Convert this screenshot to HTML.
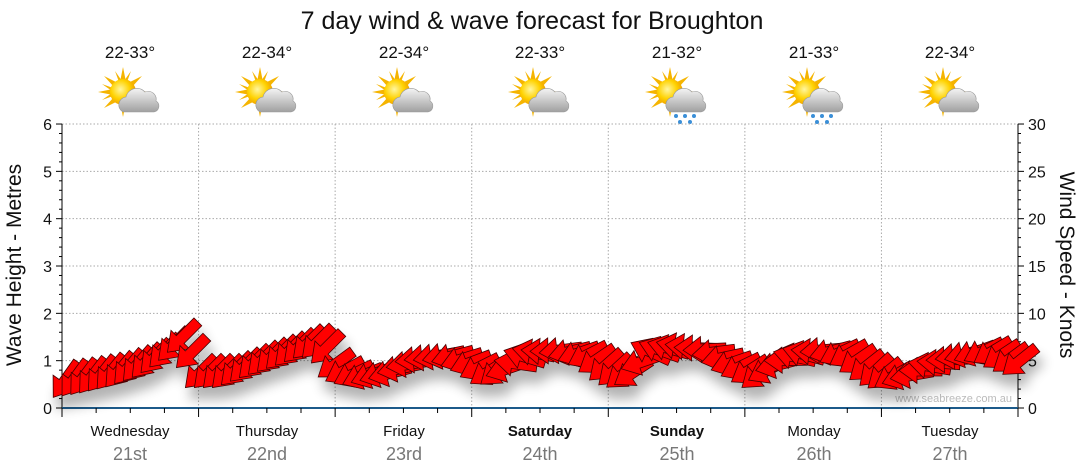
<!DOCTYPE html>
<html><head><meta charset="utf-8"><style>
body{margin:0;background:#fff;width:1080px;height:475px;overflow:hidden;font-family:"Liberation Sans",sans-serif}
svg{display:block}
</style></head><body>
<svg id="s" width="1080" height="475" xmlns="http://www.w3.org/2000/svg" font-family="Liberation Sans, sans-serif">
<defs>
<filter id="sh" x="-20%" y="-50%" width="140%" height="200%"><feGaussianBlur in="SourceAlpha" stdDeviation="6"/><feOffset dx="4" dy="12"/><feComponentTransfer><feFuncA type="linear" slope="0.3"/></feComponentTransfer><feMerge><feMergeNode/><feMergeNode in="SourceGraphic"/></feMerge></filter>
<radialGradient id="sun" cx="0.4" cy="0.4" r="0.6"><stop offset="0" stop-color="#fff6a0"/><stop offset="0.6" stop-color="#ffd200"/><stop offset="1" stop-color="#f0a000"/></radialGradient>
<linearGradient id="cl" x1="0" y1="0" x2="0" y2="1"><stop offset="0" stop-color="#f4f4f4"/><stop offset="1" stop-color="#a0a0a0"/></linearGradient>
<g id="sc">
<g fill="#f5b400">
<polygon points="-3,-10 0,-25 3,-10"/><polygon points="-3,10 0,25 3,10"/><polygon points="-10,-3 -25,0 -10,3"/><polygon points="10,-3 25,0 10,3"/>
<polygon points="-9,-5 -19,-16 -5,-9" /><polygon points="9,-5 19,-16 5,-9"/><polygon points="-9,5 -19,16 -5,9"/><polygon points="9,5 19,16 5,9"/>
<polygon points="-4,-10 -8,-21 -1,-11"/><polygon points="4,-10 8,-21 1,-11"/><polygon points="-10,-4 -21,-8 -11,-1"/><polygon points="-10,4 -21,8 -11,1"/>
</g>
<circle r="13" fill="url(#sun)"/>
<path d="M0,20 a8,8 0 0 1 3,-15 a11,11 0 0 1 19,-5 a8,8 0 0 1 11,9 a6,6 0 0 1 -2,11 z" fill="url(#cl)" stroke="#999" stroke-width="0.6"/>
</g>
<g id="rn" fill="#3a8fd8"><circle cx="6" cy="24" r="2"/><circle cx="15" cy="24" r="2"/><circle cx="24" cy="24" r="2"/><circle cx="10" cy="30" r="2"/><circle cx="20" cy="30" r="2"/></g>
</defs>
<text x="532" y="29" font-size="25" text-anchor="middle" fill="#111">7 day wind &amp; wave forecast for Broughton</text>
<g font-size="17" text-anchor="middle" fill="#111">
<text x="130" y="58">22-33°</text><text x="267" y="58">22-34°</text><text x="404" y="58">22-34°</text><text x="540" y="58">22-33°</text><text x="677" y="58">21-32°</text><text x="814" y="58">21-33°</text><text x="950" y="58">22-34°</text>
</g>
<use href="#sc" x="123" y="92"/><use href="#sc" x="260" y="92"/><use href="#sc" x="397" y="92"/><use href="#sc" x="533" y="92"/><use href="#sc" x="670" y="92"/><use href="#rn" x="670" y="92"/><use href="#sc" x="807" y="92"/><use href="#rn" x="807" y="92"/><use href="#sc" x="943" y="92"/>
<g id="grid" stroke="#aaa" stroke-dasharray="1.5,2" stroke-width="1"></g>
<g id="ax" stroke="#000" stroke-width="1"></g>
<g id="lab" font-size="16" fill="#111"></g>
<text transform="translate(21,265) rotate(-90)" font-size="21" text-anchor="middle" fill="#111">Wave Height - Metres</text>
<text transform="translate(1060,265) rotate(90)" font-size="21" text-anchor="middle" fill="#111">Wind Speed - Knots</text>
<g font-size="15" text-anchor="middle" fill="#111">
<text x="130" y="436">Wednesday</text><text x="267" y="436">Thursday</text><text x="404" y="436">Friday</text><text x="540" y="436" font-weight="bold">Saturday</text><text x="677" y="436" font-weight="bold">Sunday</text><text x="814" y="436">Monday</text><text x="950" y="436">Tuesday</text>
</g>
<g font-size="18" text-anchor="middle" fill="#777">
<text x="130" y="460">21st</text><text x="267" y="460">22nd</text><text x="404" y="460">23rd</text><text x="540" y="460">24th</text><text x="677" y="460">25th</text><text x="814" y="460">26th</text><text x="950" y="460">27th</text>
</g>
<text x="1012" y="402" font-size="11" text-anchor="end" fill="#bbb">www.seabreeze.com.au</text>
<g id="arr" filter="url(#sh)" fill="#f00" stroke="#400" stroke-width="0.8" stroke-linejoin="miter"></g>
</svg>
<script>
var NS="http://www.w3.org/2000/svg";
function el(p,t,a,txt){var e=document.createElementNS(NS,t);for(var k in a)e.setAttribute(k,a[k]);if(txt!=null)e.textContent=txt;document.getElementById(p).appendChild(e);return e;}
var x0=62,x1=1018,y0=408,dy=47.33;
for(var i=1;i<=6;i++)el("grid","line",{x1:x0,x2:x1,y1:y0-i*dy,y2:y0-i*dy});
for(var d=1;d<7;d++){var x=x0+d*(x1-x0)/7;el("grid","line",{x1:x,x2:x,y1:124,y2:y0});}
el("ax","line",{x1:x0,x2:x0,y1:124,y2:y0});el("ax","line",{x1:x1,x2:x1,y1:124,y2:y0});
el("ax","line",{x1:x0,x2:x1,y1:y0,y2:y0,stroke:"#1c5a8a","stroke-width":2});
for(var i=0;i<=6;i++){var y=y0-i*dy;el("ax","line",{x1:x0-6,x2:x0,y1:y,y2:y});el("lab","text",{x:x0-10,y:y+6,"text-anchor":"end"},i);
 if(i<6)for(var j=1;j<5;j++){var yy=y-j*dy/5;el("ax","line",{x1:x0-3,x2:x0,y1:yy,y2:yy});}}
for(var i=0;i<=6;i++){var y=y0-i*dy;el("ax","line",{x1:x1,x2:x1+6,y1:y,y2:y});el("lab","text",{x:x1+10,y:y+6},i*5);
 if(i<6)for(var j=1;j<5;j++){var yy=y-j*dy/5;el("ax","line",{x1:x1,x2:x1+3,y1:yy,y2:yy});}}
for(var k=0;k<=28;k++){var x=x0+k*(x1-x0)/28;el("ax","line",{x1:x,x2:x,y1:y0,y2:y0+(k%4==0?9:5)});}
var P=[[62,380],[90,376],[120,370],[150,360],[170,348],[185,335],[192,352],[200,372],[230,372],[260,360],[290,350],[315,340],[328,348],[338,368],[360,376],[390,373],[420,358],[450,355],[470,362],[490,372],[510,368],[530,353],[560,350],[590,355],[610,368],[630,376],[650,352],[680,346],[710,350],[730,362],[760,374],[790,358],[820,350],[850,354],[870,368],[890,376],[910,376],[930,366],[960,355],[990,350],[1010,358],[1025,362]];
var A=[[62,125],[180,135],[200,135],[330,135],[340,150],[420,175],[470,160],[500,140],[520,200],[580,160],[610,135],[640,150],[650,205],[720,170],[760,140],[800,200],[840,155],[880,135],[930,190],[990,150],[1025,140]];
function interp(T,x){for(var i=0;i<T.length-1;i++)if(x<=T[i+1][0]){var t=(x-T[i][0])/(T[i+1][0]-T[i][0]);return T[i][1]+t*(T[i+1][1]-T[i][1]);}return T[T.length-1][1];}
for(var x=66;x<=1022;x+=9){var y=interp(P,x),a=interp(A,x);
 el("arr","polygon",{points:"22,0 4,-13 4,-5.5 -21,-5.5 -21,5.5 4,5.5 4,13",transform:"translate("+x+","+y+") rotate("+a+")"});}
</script>
</body></html>
